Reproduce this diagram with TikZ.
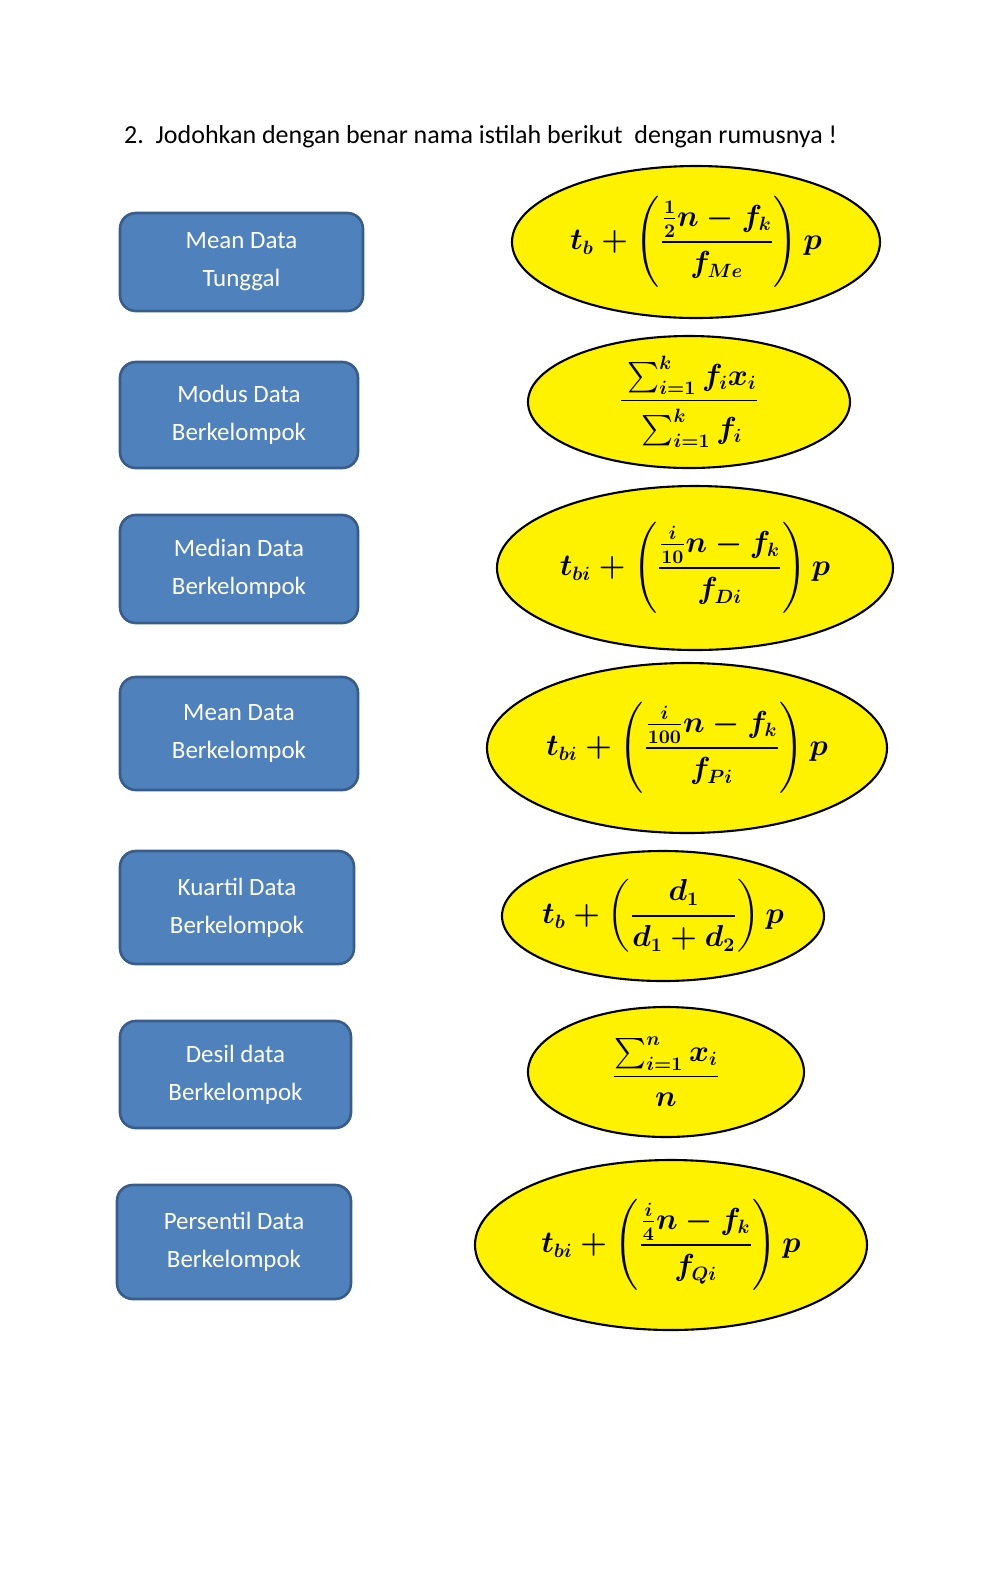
\documentclass[tikz,border=0pt]{standalone}
\usepackage{amsmath}
\usepackage{fontspec}
\setmainfont{Carlito}
\begin{document}
\begin{tikzpicture}[x=0.02cm,y=-0.02cm]
\definecolor{boxfill}{HTML}{4F81BD}
\definecolor{boxline}{HTML}{385D8A}
\tikzset{termbox/.style={draw=boxline, fill=boxfill, line width=1.5pt, rounded corners=9pt, text=white, align=center, font=\fontsize{14.2}{21.5}\selectfont},
  mathtext/.style={font=\fontsize{16}{19}\selectfont\boldmath}}
\useasboundingbox (0,0) rectangle (1000,1570);
\node[anchor=west, font=\fontsize{14.8}{17}\selectfont] (title) at (118,137) {2.\ \ Jodohkan dengan benar nama istilah berikut\ \ dengan rumusnya !};
\newcommand\tbox[6]{\draw[termbox] (#2,#3) rectangle (#4,#5); \node[termbox,draw=none,fill=none] (#1) at ({(#2+#4)/2},{(#3+#5)/2}) {#6};}
\tbox{b1}{120}{213}{363}{311}{Mean Data\\Tunggal}
\tbox{b2}{120}{362}{358}{468}{Modus Data\\Berkelompok}
\tbox{b3}{120}{515}{358}{623}{Median Data\\Berkelompok}
\tbox{b4}{120}{677}{358}{790}{Mean Data\\Berkelompok}
\tbox{b5}{120}{851}{354}{964}{Kuartil Data\\Berkelompok}
\tbox{b6}{120}{1021}{351}{1128}{Desil data\\Berkelompok}
\tbox{b7}{117}{1185}{351}{1299}{Persentil Data\\Berkelompok}
\newcommand\fel[6]{\draw[line width=1.2pt, fill=yellow] (#2,#3) ellipse [x radius=#4*0.02cm, y radius=#5*0.02cm]; \node[mathtext] (#1) at (#2,#3) {#6};}
\fel{e1}{696}{242}{184}{76}{$t_b+\left(\dfrac{\frac{1}{2}n-f_k}{f_{Me}}\right)p$}
\fel{e2}{689}{402}{161}{66}{$\dfrac{\rule[-5pt]{0pt}{5pt}\textstyle\sum_{i=1}^{k} f_i x_i}{\rule{0pt}{19pt}\textstyle\sum_{i=1}^{k} f_i}$}
\fel{e3}{695}{568}{198}{82}{$t_{bi}+\left(\dfrac{\frac{i}{10}n-f_k}{f_{Di}}\right)p$}
\fel{e4}{687}{748}{200}{85}{$t_{bi}+\left(\dfrac{\frac{i}{100}n-f_k}{f_{Pi}}\right)p$}
\fel{e5}{663}{916}{161}{65}{$t_b+\left(\dfrac{d_1}{d_1+d_2}\right)p$}
\fel{e6}{666}{1072}{138}{65}{$\dfrac{\textstyle\sum_{i=1}^{n} x_i}{n}$}
\fel{e7}{671}{1245}{196}{85}{$t_{bi}+\left(\dfrac{\frac{i}{4}n-f_k}{f_{Qi}}\right)p$}
\end{tikzpicture}
\end{document}
